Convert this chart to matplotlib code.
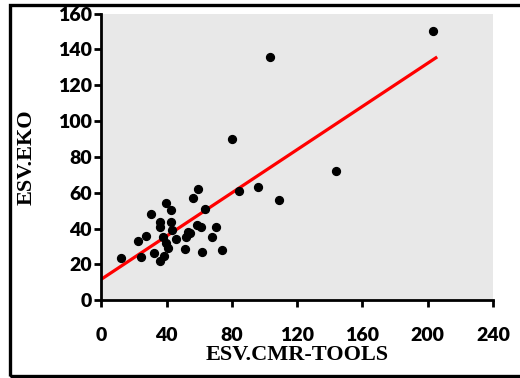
import numpy as np
import matplotlib.pyplot as plt
from matplotlib.patches import Rectangle

# ESV measured with CMR-tools (x) vs echo (y)
esv_cmr = [12.3, 22.2, 27.2, 24.2, 30.1, 32.4, 36.2, 38.3, 36.2, 36.2,
           39.5, 42.4, 42.4, 43.0, 37.5, 39.9, 40.9, 45.6, 51.3, 51.7,
           53.2, 54.2, 58.3, 61.0, 56.2, 59.3, 63.4, 61.4, 70.1, 67.5,
           74.2, 84.4, 96.0, 108.9, 80.1, 144.0, 103.2, 203.0]
esv_eko = [23.8, 33.0, 35.8, 24.2, 48.0, 26.1, 21.8, 24.6, 43.7, 41.0,
           54.0, 50.3, 43.7, 39.0, 35.4, 31.7, 28.9, 33.9, 28.3, 35.4,
           38.2, 37.3, 41.9, 41.0, 56.8, 62.0, 50.7, 26.6, 41.0, 35.0,
           28.0, 61.0, 63.0, 56.0, 90.0, 72.0, 135.7, 150.3]

# regression line
fit_x = [0, 205]
fit_intercept = 11.7
fit_slope = 0.603

fig = plt.figure(figsize=(5.2, 3.78), dpi=100)
ax = fig.add_axes([0.195, 0.206, 0.753, 0.758])
ax.set_facecolor('#e8e8e8')

fx = np.array(fit_x)
ax.plot(fx, fit_intercept + fit_slope * fx, color='red', lw=2.3, zorder=2)
ax.scatter(esv_cmr, esv_eko, s=32, color='black', zorder=3)

ax.set_xlim(0, 240)
ax.set_ylim(0, 160)
ax.set_xticks(range(0, 241, 40))
ax.set_yticks(range(0, 161, 20))
for s in ['top', 'right']:
    ax.spines[s].set_visible(False)
for s in ['left', 'bottom']:
    ax.spines[s].set_linewidth(2)
ax.tick_params(axis='both', direction='out', length=5, width=2)
ax.tick_params(axis='x', pad=14)
ax.tick_params(axis='y', pad=2)
for lab in ax.get_xticklabels() + ax.get_yticklabels():
    lab.set_family('Lato')
    lab.set_weight('heavy')
    lab.set_fontsize(14)

ax.set_xlabel('ESV.CMR-TOOLS', family='Liberation Serif', weight='bold',
              fontsize=16, va='center')
ax.xaxis.set_label_coords(0.5, -0.19)
ax.set_ylabel('ESV.EKO', family='Liberation Serif', weight='bold',
              fontsize=16, va='center')
ax.yaxis.set_label_coords(-0.19, 0.5)

# frame around the whole figure (right side runs off the image)
fig.patches.append(Rectangle((9.5 / 520, 2.5 / 378), 1.1, 370.5 / 378,
                             transform=fig.transFigure, fill=False,
                             lw=2.4, edgecolor='black', clip_on=False))

fig.savefig('out.png', dpi=100)
